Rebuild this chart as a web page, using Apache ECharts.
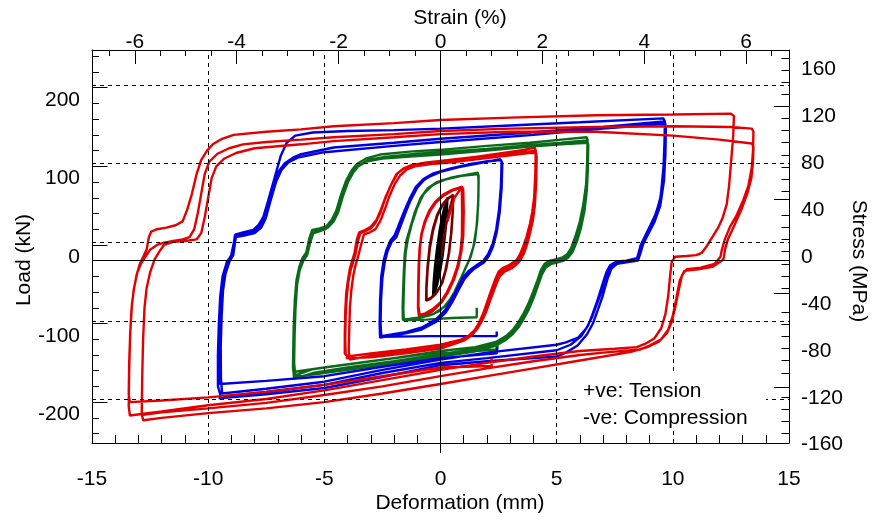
<!DOCTYPE html>
<html><head><meta charset="utf-8">
<script src="https://cdn.jsdelivr.net/npm/echarts@6/dist/echarts.min.js"></script>
<style>html,body{margin:0;padding:0;background:#fff}#c{width:872px;height:517px}</style>
</head><body><div id="c"></div><script>
// ---------- data: [deformation (mm), load (kN)] ----------
const blackLoops = [
 [0,0],[0.06,22],[0.11,40],[0.13,48],[0.1,32],[0.04,12],[-0.03,-6],[-0.09,-16],[-0.13,-20],[-0.1,-8],[-0.04,8],[0.04,26],[0.1,40],[0.14,50],
 [0.18,60],[0.22,67],[0.19,48],[0.12,24],[0.03,2],[-0.08,-18],[-0.16,-30],[-0.22,-36],[-0.2,-22],[-0.13,-2],[-0.05,18],[0.06,40],[0.15,57],[0.22,68],
 [0.27,75],[0.3,80],[0.27,60],[0.2,34],[0.1,8],[-0.02,-14],[-0.14,-30],[-0.25,-40],[-0.32,-45],[-0.3,-30],[-0.24,-8],[-0.15,15],[-0.04,38],[0.08,57],[0.2,71],[0.29,79],
 [0.26,58],[0.18,30],[0.06,2],[-0.08,-22],[-0.2,-36],[-0.31,-44],[-0.29,-26],[-0.21,-2],[-0.1,24],[0.03,47],[0.16,66],[0.28,77]
];
const maroonLoops = [
 [0,0],[0.15,30],[0.3,55],[0.45,72],[0.55,83],[0.53,62],[0.47,36],[0.38,12],[0.25,-10],[0.08,-28],[-0.15,-40],[-0.4,-47],[-0.6,-50],
 [-0.6,-35],[-0.55,-10],[-0.46,15],[-0.32,38],[-0.14,57],[0.08,70],[0.3,78],[0.55,84],
 [0.52,60],[0.45,33],[0.35,8],[0.2,-14],[0.02,-31],[-0.22,-43],[-0.45,-49],[-0.62,-51],
 [-0.61,-33],[-0.56,-8],[-0.47,18],[-0.33,40],[-0.15,58],[0.07,71],[0.3,79],[0.52,83]
];
const redLoops1 = [
 [0.3,50],[0.6,80],[0.88,92],[0.92,88],[0.93,60],[0.92,30],[0.85,10],[0.72,-8],[0.52,-25],[0.28,-40],[0,-53],[-0.35,-62],[-0.65,-67],[-0.9,-69],
 [-0.95,-58],[-0.94,-30],[-0.92,-5],[-0.88,18],[-0.8,35],[-0.65,50],[-0.45,63],[-0.2,74],[0.15,83],[0.5,89],[0.9,93],
 [0.95,88],[0.97,60],[0.95,30],[0.88,10],[0.75,-8],[0.55,-25],[0.3,-40],[0.02,-54],[-0.33,-64],[-0.64,-70],[-0.92,-72],
 [-0.97,-60],[-0.96,-32],[-0.94,-6],[-0.9,16],[-0.82,34],[-0.68,50],[-0.48,64],[-0.22,75],[0.12,84],[0.5,90],[0.93,94],
 [0.98,90],[1.0,62],[0.98,32],[0.9,12],[0.78,-6],[0.58,-24],[0.33,-40],[0.05,-53],[-0.3,-63],[-0.62,-69],[-0.9,-71]
];
const greenLoops1 = [
 [1.56,-60],[1.56,-72],[0.5,-73],[-0.6,-75],[-1.6,-76],
 [-1.62,-62],[-1.61,-40],[-1.58,-15],[-1.54,8],[-1.46,26],[-1.3,42],[-1.1,62],[-0.85,80],[-0.55,92],[-0.15,100],[0.5,106],[1.1,109],[1.6,112],
 [1.64,108],[1.63,80],[1.58,50],[1.48,25],[1.3,5],[1.1,-8],[0.88,-22],[0.6,-40],[0.3,-55],[-0.1,-65],[-0.5,-70],[-1.0,-73],[-1.58,-75],
 [-1.6,-62],[-1.58,-38],[-1.55,-12],[-1.5,10],[-1.4,28],[-1.24,46],[-1.02,66],[-0.75,84],[-0.4,95],[0.05,102],[0.7,107],[1.3,110],[1.62,110],
 [1.64,100],[1.62,70],[1.55,42],[1.42,18],[1.24,1],[1.02,-13],[0.8,-28],[0.5,-46],[0.15,-59],[-0.3,-68],[-0.8,-72],[-1.3,-74],[-1.62,-75],
 [-1.63,-58],[-1.6,-32],[-1.56,-6],[-1.5,14],[-1.38,32],[-1.2,52],[-0.98,70],[-0.7,86],[-0.3,97],[0.2,103],[0.9,108],[1.55,110]
];
const blueLoops1 = [
 [2.42,-90],[2.42,-96],[1.0,-96],[-0.5,-96],[-2.55,-97],
 [-2.6,-85],[-2.58,-60],[-2.54,-30],[-2.46,-8],[-2.36,8],[-2.25,18],[-2.1,27],[-1.95,33],[-1.8,45],[-1.6,60],[-1.4,74],[-1.15,88],[-0.9,98],[-0.55,106],[0,113],[0.8,119],[1.7,124],[2.56,129],
 [2.63,126],[2.6,95],[2.52,65],[2.4,40],[2.25,22],[2.06,9],[1.85,0],[1.6,-5],[1.4,-9],[1.22,-13],[1.0,-20],[0.78,-32],[0.5,-48],[0.2,-63],[-0.2,-75],[-0.8,-85],[-1.5,-91],[-2.1,-94],[-2.55,-96],
 [-2.58,-80],[-2.56,-50],[-2.5,-22],[-2.4,-2],[-2.28,12],[-2.1,24],[-1.9,30],[-1.72,44],[-1.52,60],[-1.3,76],[-1.02,92],[-0.7,103],[-0.3,110],[0.3,116],[1.2,122],[2.0,126],[2.6,128],
 [2.66,124],[2.63,92],[2.55,62],[2.42,36],[2.26,18],[2.08,6],[1.88,-2],[1.62,-7],[1.42,-11],[1.25,-16],[1.02,-24],[0.8,-36],[0.52,-52],[0.22,-66],[-0.2,-78],[-0.85,-88],[-1.6,-93],[-2.2,-96],[-2.6,-98],
 [-2.62,-80],[-2.6,-50],[-2.55,-20],[-2.45,0],[-2.32,14],[-2.15,26],[-1.98,32],[-1.78,46],[-1.56,62],[-1.34,78],[-1.06,94],[-0.72,104],[-0.3,111],[0.4,117],[1.3,123],[2.1,127],[2.58,128]
];
const redLoops2 = [
 [-3.9,-122],[-4.08,-120],[-4.1,-100],[-4.08,-70],[-4.03,-45],[-3.97,-28],[-3.87,-12],[-3.76,-2],[-3.66,8],[-3.55,25],[-3.45,35],[-3.2,38],[-3.0,41],[-2.8,48],[-2.6,60],[-2.4,77],[-2.17,94],[-1.9,110],[-1.6,117],[-1.3,121],[-0.6,125],[0,127],[1.5,132],[2.7,137],[3.6,141],[4.05,144],
 [4.1,140],[4.08,110],[4.03,80],[3.95,62],[3.85,47],[3.7,30],[3.56,18],[3.42,8],[3.28,1],[3.0,-5],[2.7,-9],[2.5,-14],[2.38,-22],[2.24,-33],[2.12,-43],[1.98,-55],[1.84,-67],[1.66,-79],[1.48,-88],[1.2,-96],[0.84,-101],[0,-107],[-1.5,-113],[-3,-118],[-4.0,-122],
 [-4.12,-118],[-4.12,-95],[-4.1,-65],[-4.06,-42],[-3.99,-26],[-3.9,-10],[-3.8,0],[-3.7,10],[-3.6,27],[-3.5,36],[-3.25,39],[-3.0,43],[-2.75,52],[-2.55,66],[-2.35,82],[-2.1,98],[-1.85,111],[-1.55,118],[-1.2,121],[-0.5,124],[0,125],[1.5,130],[2.7,134],[3.6,138],[4.07,140],
 [4.12,136],[4.1,105],[4.05,75],[3.96,55],[3.85,40],[3.72,26],[3.58,14],[3.42,4],[3.28,-2],[3.0,-8],[2.7,-12],[2.5,-17],[2.36,-26],[2.22,-37],[2.08,-48],[1.94,-60],[1.78,-72],[1.6,-83],[1.4,-92],[1.1,-99],[0.7,-104],[0,-110],[-1.5,-116],[-3,-121],[-3.9,-126],
 [-3.95,-115],[-3.93,-90],[-3.9,-60],[-3.84,-38],[-3.76,-20],[-3.66,-6],[-3.54,6],[-3.42,20],[-3.3,33],[-3.05,36],[-2.8,40],[-2.6,50],[-2.4,65],[-2.2,82],[-1.98,97],[-1.75,108],[-1.45,116],[-1.1,120],[-0.4,123],[0.5,125],[1.8,130],[3.0,134],[3.8,137],[4.1,137],
 [4.14,132],[4.12,100],[4.06,70],[3.98,52],[3.86,36],[3.74,22],[3.6,10],[3.45,1],[3.3,-4],[3.05,-10],[2.75,-14],[2.55,-20],[2.4,-30],[2.26,-41],[2.12,-52],[1.98,-64],[1.8,-76],[1.6,-86],[1.38,-94],[1.05,-101],[0.6,-106],[0,-112],[-1.5,-118],[-3,-123],[-4.08,-124]
];
const greenLoops2 = [
 [2.45,-103],[2.45,-113],[1,-116],[-0.45,-118],[-3,-128],[-5,-136],[-6.19,-141],[-6.32,-143],
 [-6.34,-120],[-6.32,-85],[-6.27,-50],[-6.2,-25],[-6.08,-8],[-5.93,4],[-5.78,10],[-5.65,28],[-5.52,39],[-5.2,41],[-4.9,44],[-4.68,52],[-4.48,64],[-4.28,84],[-4.06,102],[-3.82,115],[-3.6,123],[-3.2,130],[-2.6,135],[-1.2,139],[0,141],[2,146],[3.85,150],[5.2,154],[6.29,157],
 [6.33,154],[6.31,125],[6.27,98],[6.15,72],[6.0,50],[5.82,32],[5.62,16],[5.45,8],[5.25,4],[5.0,2],[4.72,0],[4.48,-4],[4.32,-12],[4.16,-26],[3.98,-40],[3.78,-55],[3.58,-67],[3.36,-78],[3.14,-87],[2.82,-96],[2.42,-103],[1.5,-110],[0,-115],[-2,-124],[-4,-132],[-5.5,-138],[-6.25,-146],
 [-6.3,-130],[-6.28,-95],[-6.24,-60],[-6.17,-30],[-6.06,-12],[-5.9,0],[-5.74,7],[-5.6,24],[-5.46,36],[-5.15,39],[-4.85,42],[-4.6,50],[-4.4,62],[-4.2,82],[-3.98,100],[-3.74,113],[-3.5,121],[-3.1,128],[-2.4,132],[-1,136],[0,138],[2,142],[3.85,147],[5.2,150],[6.3,153],
 [6.34,150],[6.32,120],[6.28,94],[6.17,68],[6.02,46],[5.84,28],[5.64,13],[5.46,6],[5.26,2],[5.0,0],[4.72,-2],[4.46,-7],[4.3,-16],[4.13,-30],[3.94,-45],[3.74,-60],[3.54,-71],[3.32,-82],[3.08,-91],[2.75,-99],[2.35,-106],[1.4,-113],[0,-119],[-2,-128],[-4,-136],[-5.5,-143],[-6.3,-150],
 [-6.35,-135],[-6.33,-100],[-6.28,-60],[-6.2,-30],[-6.1,-12],[-5.95,0],[-5.8,6],[-5.68,22],[-5.56,34],[-5.25,37],[-4.95,40],[-4.72,48],[-4.52,60],[-4.3,80],[-4.08,98],[-3.84,111],[-3.6,119],[-3.2,126],[-2.5,130],[-1,133],[0,135],[2,140],[3.85,145],[5.2,148],[6.33,150],
 [6.36,147],[6.34,115],[6.3,90],[6.2,64],[6.05,42],[5.88,25],[5.68,11],[5.5,4],[5.3,0],[5.05,-2],[4.78,-4],[4.52,-9],[4.36,-18],[4.18,-33],[4.0,-48],[3.8,-62],[3.6,-73],[3.38,-84],[3.12,-93],[2.8,-101],[2.4,-108],[1.4,-116],[0,-122],[-2,-131],[-4,-139],[-5.5,-145],[-6.28,-148]
];
const blueLoops2 = [
 [2.42,-110],[2.42,-118],[0,-124],[-2.5,-135],[-5,-147],[-7.5,-153],[-9.5,-157],
 [-9.53,-135],[-9.52,-95],[-9.48,-60],[-9.42,-33],[-9.32,-15],[-9.15,0],[-8.98,8],[-8.9,22],[-8.84,33],[-8.5,36],[-8.06,39],[-7.82,46],[-7.62,56],[-7.42,76],[-7.22,97],[-7.05,115],[-6.88,133],[-6.62,150],[-6.25,159],[-5.5,163],[-4,165],[-2,166],[0,168],[3,172],[6,176],[9.59,181],
 [9.66,177],[9.64,150],[9.6,120],[9.48,82],[9.3,62],[9.05,46],[8.8,31],[8.62,20],[8.52,9],[8.44,1],[7.95,-1],[7.55,-2],[7.28,-8],[7.12,-20],[6.92,-40],[6.72,-56],[6.52,-72],[6.28,-86],[5.92,-98],[5.4,-104],[5,-107],[2,-117],[0,-126],[-2.5,-139],[-5,-154],[-7.5,-163],[-9.4,-169],
 [-9.45,-150],[-9.46,-110],[-9.42,-70],[-9.36,-38],[-9.26,-17],[-9.08,-1],[-8.92,7],[-8.84,24],[-8.78,33],[-8.4,35],[-8.0,38],[-7.75,45],[-7.55,55],[-7.35,76],[-7.15,98],[-6.95,114],[-6.7,124],[-6.35,131],[-6.05,135],[-4.6,144],[-2,150],[0,155],[3.85,163],[7,170],[9.62,177],
 [9.68,174],[9.66,145],[9.6,112],[9.45,77],[9.22,56],[8.98,41],[8.72,26],[8.56,13],[8.46,3],[8.0,0],[7.58,-1],[7.3,-6],[7.15,-14],[6.95,-32],[6.74,-52],[6.52,-70],[6.36,-82],[6.06,-96],[5.6,-107],[5,-114],[2,-124],[0,-130],[-2.5,-143],[-5,-158],[-7.5,-167],[-9.45,-173],
 [-9.58,-160],[-9.58,-120],[-9.54,-80],[-9.48,-45],[-9.38,-20],[-9.2,-2],[-9.02,5],[-8.9,22],[-8.82,30],[-8.45,32],[-8.0,35],[-7.72,42],[-7.52,54],[-7.3,78],[-7.08,100],[-6.85,115],[-6.55,125],[-6.15,131],[-5,138],[-2,146],[0,151],[4,160],[7,168],[9.66,174],
 [9.7,170],[9.68,135],[9.62,102],[9.46,70],[9.22,50],[8.96,35],[8.72,21],[8.6,9],[8.5,0],[8.0,-2],[7.6,-4],[7.36,-10],[7.2,-22],[6.98,-45],[6.78,-62],[6.56,-80],[6.3,-94],[5.9,-108],[5.4,-117],[5,-122],[2,-128],[0,-133],[-2.5,-148],[-5,-162],[-7.5,-170],[-9.55,-175]
];
const redLoops3 = [
 [2.2,-124],[2.2,-134],[0,-136],[-2.5,-147],[-5,-158],[-7.5,-167],[-10,-174],[-12,-178],[-13.37,-180],
 [-13.42,-170],[-13.4,-130],[-13.35,-90],[-13.28,-55],[-13.2,-37],[-13.08,-18],[-12.94,-4],[-12.78,6],[-12.65,14],[-12.55,30],[-12.45,37],[-12.2,40],[-11.8,42],[-11.4,45],[-11.1,50],[-10.9,65],[-10.7,85],[-10.5,110],[-10.3,128],[-10.05,140],[-9.8,148],[-9.4,155],[-8.9,160],[-7.5,164],[-6,167],[-4.6,171],[-2,175],[0,179],[3,182],[6.7,185],[10,186],[12.5,187],
 [12.63,184],[12.6,160],[12.52,130],[12.42,95],[12.32,72],[12.15,55],[11.95,42],[11.7,30],[11.45,18],[11.25,10],[11.0,7],[10.6,6],[10.1,5],[9.95,-2],[9.88,-20],[9.8,-45],[9.68,-68],[9.5,-86],[9.2,-99],[8.8,-106],[8.45,-110],[7.5,-112],[6,-115],[4,-122],[2,-130],[0,-139],[-2.5,-152],[-5,-165],[-7.5,-176],[-10,-184],[-12,-192],[-13.37,-197],
 [-13.42,-185],[-13.4,-140],[-13.36,-95],[-13.3,-62],[-13.2,-36],[-13.05,-15],[-12.88,-3],[-12.7,5],[-12.5,14],[-12.2,20],[-11.9,23],[-11.5,25],[-11.1,27],[-10.8,30],[-10.6,40],[-10.45,60],[-10.3,85],[-10.15,110],[-9.95,126],[-9.6,136],[-9.1,143],[-8.5,148],[-7.5,151],[-6,154],[-4.6,157],[-2,161],[0,165],[3,168],[6.7,170],[10,171],[12.5,170],[13.4,168],
 [13.47,164],[13.45,140],[13.4,119],[13.25,95],[13.03,77],[12.75,58],[12.46,43],[12.25,28],[12.12,15],[12.05,5],[11.8,-4],[11.2,-9],[10.6,-11],[10.4,-18],[10.25,-38],[10.1,-60],[9.95,-78],[9.75,-92],[9.4,-103],[8.9,-110],[8.2,-116],[6,-127],[4,-137],[2,-147],[0,-157],[-2.5,-169],[-5,-180],[-7.5,-188],[-10,-194],[-12,-200],[-12.8,-203],
 [-12.86,-195],[-12.84,-150],[-12.8,-100],[-12.74,-60],[-12.65,-35],[-12.5,-15],[-12.3,2],[-12.07,13],[-11.9,20],[-11.5,24],[-11.0,25],[-10.5,27],[-10.3,35],[-10.15,55],[-10.0,80],[-9.85,105],[-9.65,120],[-9.3,130],[-8.8,137],[-8,143],[-6,148],[-4.6,152],[-2,157],[0,161],[3,164],[6.7,164],[10,159],[12,154],[13.4,149],
 [13.47,145],[13.45,125],[13.38,105],[13.2,85],[12.95,65],[12.65,45],[12.38,28],[12.25,15],[12.2,5],[12.17,1],[11.7,-8],[11.1,-11],[10.5,-13],[10.3,-25],[10.15,-48],[10.0,-70],[9.8,-88],[9.5,-100],[9.0,-108],[8.6,-113],[7,-117],[6,-120],[4,-128],[2,-137],[0,-147],[-2.5,-160],[-5,-171],[-7.5,-181],[-10,-188],[-12,-193],[-12.8,-196]
];

// ---------- axes: ticks, labels, guides ----------
const defLabels = [-15,-10,-5,0,5,10,15];
const defMinorTicks = [-14,-13,-12,-11,-9,-8,-7,-6,-4,-3,-2,-1,1,2,3,4,6,7,8,9,11,12,13,14];
const strainLabels = [-6,-4,-2,0,2,4,6];
const strainMinorTicks = [-6.5,-5.5,-5,-4.5,-3.5,-3,-2.5,-1.5,-1,-0.5,0.5,1,1.5,2.5,3,3.5,4.5,5,5.5,6.5];
const loadLabels = [-200,-100,0,100,200];
const loadMajorTicks = [-180,-80,20,120,220];
const loadMinorTicks = [-220,-200,-160,-140,-120,-100,-60,-40,-20,0,40,60,80,100,140,160,180,200,240,260];
const stressLabels = [-160,-120,-80,-40,0,40,80,120,160];
const stressMajorTicks = [132,52,-28,-108];
const stressMinorTicks = [172.9,162.6,152.3,142.0,121.3,111.0,100.6,90.3,80.0,69.6,59.3,38.6,28.3,18.0,7.6,-2.7,-13.0,-23.4,-44.0,-54.4,-64.7,-75.0,-85.4,-95.7,-116.4,-126.7,-137.0,-147.4];
const loadGuides = [223.5,123.5,23.5,-76.5,-176.5];
const defGuides = [-10,-5,5,10];

const mmPerPercent = 2.193;   // deformation per 1 % strain
const mpaPerKn = 0.6706;      // stress per 1 kN load
const defMin = -15, defMax = 15, loadMin = -232, loadMax = 268, labelLoadMin = -246;

const FONT = "'Liberation Sans', Arial, Helvetica, sans-serif";
const FS = 21;
const BLACK = '#000';

function axis(extra) {
  return Object.assign({type:'value', splitLine:{show:false},
    axisLine:{show:false, onZero:false}, axisLabel:{show:false}, axisTick:{show:false}}, extra);
}
const lineOn = {show:true, onZero:false, lineStyle:{color:BLACK, width:1}};
const lbl = (vals, margin) => ({show:true, customValues:vals, margin, color:BLACK, fontSize:FS, fontFamily:FONT});
const tk = (vals, len, inside) => ({show:true, customValues:vals, length:len, inside, lineStyle:{color:BLACK, width:1}});

const chart = echarts.init(document.getElementById('c'), null, {renderer:'canvas', width:872, height:517});

function loopSeries(data, color, z) {
  return {type:'line', data, xAxisIndex:0, yAxisIndex:0, showSymbol:false, symbol:'none', smooth:false,
    lineStyle:{color, width:2.4}, itemStyle:{color}, z, silent:true, animation:false, clip:true};
}

const guideSeries = {
  type:'line', data:[], xAxisIndex:0, yAxisIndex:0, z:1, silent:true, animation:false,
  markLine:{silent:true, symbol:['none','none'], label:{show:false}, animation:false,
    lineStyle:{color:BLACK, width:1, type:[4,4]},
    emphasis:{disabled:true},
    data: loadGuides.map(v => ({yAxis:v}))
      .concat(defGuides.map(v => ({xAxis:v})))
      .concat([{xAxis:0, lineStyle:{type:'solid', color:BLACK, width:1}}, {yAxis:0, lineStyle:{type:'solid', color:BLACK, width:1}}])
  }
};

const option = {
  animation:false,
  backgroundColor:'#fff',
  grid:[
    {left:92, right:83, top:50, bottom:74, containLabel:false},
    {left:92, right:83, top:46.5, bottom:66.5, containLabel:false}
  ],
  xAxis:[
    axis({gridIndex:0, position:'bottom', min:defMin, max:defMax, axisLine:lineOn, axisTick:tk(defMinorTicks, 8, true), axisLabel:lbl(defLabels, 26)}),
    axis({gridIndex:0, position:'bottom', min:defMin, max:defMax, axisTick:tk([0], 10, false)}),
    axis({gridIndex:0, position:'top', min:defMin/mmPerPercent, max:defMax/mmPerPercent, axisLine:lineOn, axisTick:tk(strainMinorTicks, 6, true)}),
    axis({gridIndex:0, position:'top', min:defMin/mmPerPercent, max:defMax/mmPerPercent, axisTick:tk(strainLabels, 14, true), axisLabel:lbl(strainLabels, -3)}),
    axis({gridIndex:1, show:false, min:defMin, max:defMax})
  ],
  yAxis:[
    axis({gridIndex:0, position:'left', min:loadMin, max:loadMax, axisLine:lineOn, axisTick:tk(loadMinorTicks, 7, true)}),
    axis({gridIndex:0, position:'left', min:loadMin, max:loadMax, axisTick:tk(loadMajorTicks, 15.5, true)}),
    axis({gridIndex:0, position:'right', min:loadMin*mpaPerKn, max:loadMax*mpaPerKn, axisLine:lineOn, axisTick:tk(stressMinorTicks, 7.5, true)}),
    axis({gridIndex:0, position:'right', min:loadMin*mpaPerKn, max:loadMax*mpaPerKn, axisTick:tk(stressMajorTicks, 15, true)}),
    axis({gridIndex:1, position:'left', min:labelLoadMin, max:loadMax, axisLabel:lbl(loadLabels, 12)}),
    axis({gridIndex:1, position:'right', min:labelLoadMin*mpaPerKn, max:loadMax*mpaPerKn, axisLabel:lbl(stressLabels, 12)})
  ],
  series:[
    guideSeries,
    loopSeries(blackLoops, '#000000', 3),
    loopSeries(maroonLoops, '#7a0000', 3),
    loopSeries(redLoops1, '#e40000', 3),
    loopSeries(greenLoops1, '#0a6a1a', 3),
    loopSeries(blueLoops1, '#0000e0', 3),
    loopSeries(redLoops2, '#e40000', 3),
    loopSeries(greenLoops2, '#0a6a1a', 3),
    loopSeries(blueLoops2, '#0000e0', 3),
    loopSeries(redLoops3, '#e40000', 3)
  ],
  graphic:[
    {type:'rect', shape:{x:580, y:375, width:186, height:56}, style:{fill:'#fff'}, z:100, silent:true},
    {type:'text', x:583, y:391.5, z:101, silent:true, style:{text:'+ve: Tension', fill:BLACK, fontSize:FS, fontFamily:FONT, align:'left', verticalAlign:'middle', textAlign:'left', textVerticalAlign:'middle'}},
    {type:'text', x:583, y:418, z:101, silent:true, style:{text:'-ve: Compression', fill:BLACK, fontSize:FS, fontFamily:FONT, align:'left', verticalAlign:'middle', textAlign:'left', textVerticalAlign:'middle'}},
    {type:'text', x:460, y:18, z:101, silent:true, style:{text:'Strain (%)', fill:BLACK, fontSize:FS, fontFamily:FONT, align:'center', verticalAlign:'middle', textAlign:'center', textVerticalAlign:'middle'}},
    {type:'text', x:460, y:503, z:101, silent:true, style:{text:'Deformation (mm)', fill:BLACK, fontSize:FS, fontFamily:FONT, align:'center', verticalAlign:'middle', textAlign:'center', textVerticalAlign:'middle'}},
    {type:'text', x:24, y:260, rotation:Math.PI/2, z:101, silent:true, style:{text:'Load (kN)', fill:BLACK, fontSize:FS, fontFamily:FONT, align:'center', verticalAlign:'middle', textAlign:'center', textVerticalAlign:'middle'}},
    {type:'text', x:859, y:261, rotation:-Math.PI/2, z:101, silent:true, style:{text:'Stress (MPa)', fill:BLACK, fontSize:FS, fontFamily:FONT, align:'center', verticalAlign:'middle', textAlign:'center', textVerticalAlign:'middle'}}
  ]
};
chart.setOption(option);
</script></body></html>
